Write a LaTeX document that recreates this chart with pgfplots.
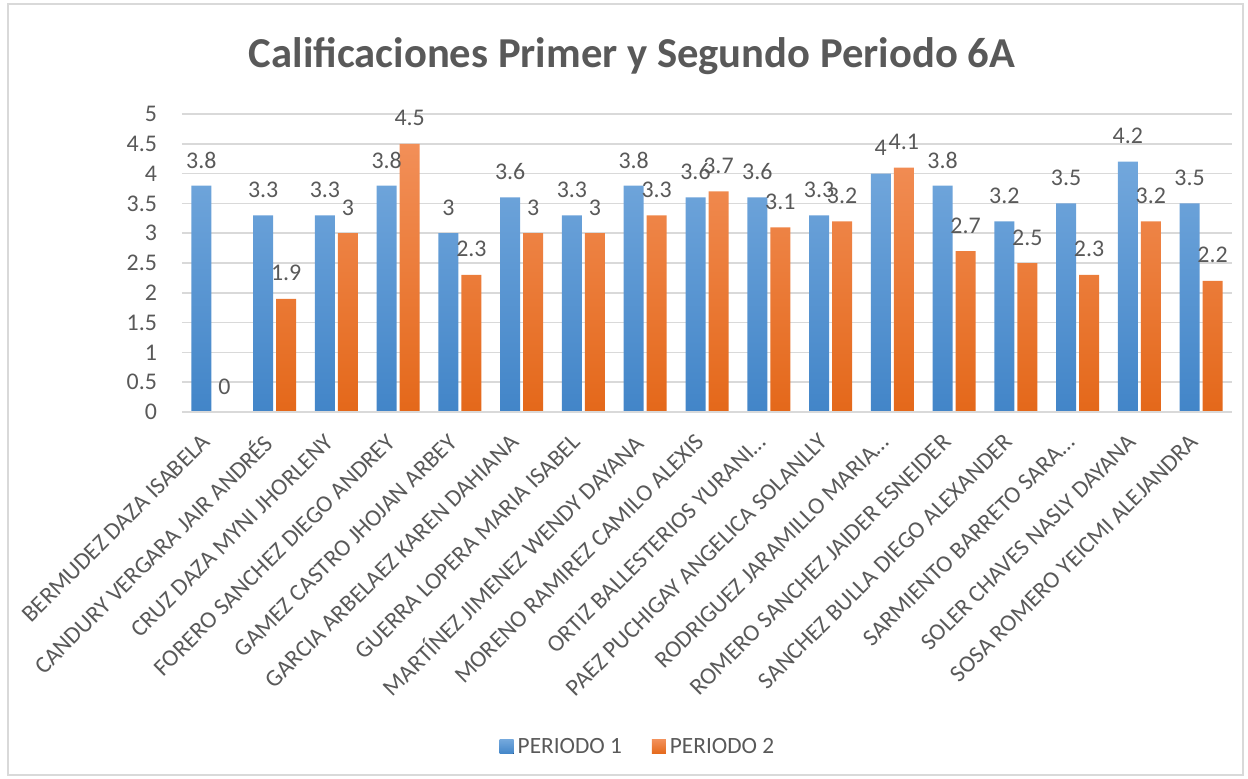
\documentclass[border=0pt]{standalone}
\usepackage{fontspec}
\setmainfont{Carlito}
\usepackage{pgfplots}
\pgfplotsset{compat=1.18}

\definecolor{txt}{HTML}{595959}
\definecolor{gridc}{HTML}{D9D9D9}
\definecolor{blueT}{HTML}{72A7DC}
\definecolor{blueB}{HTML}{4285C8}
\definecolor{orgT}{HTML}{F28F58}
\definecolor{orgB}{HTML}{E4681A}

\begin{document}
\begin{tikzpicture}
% picture size matches 1248x779 px at 0.5bp per px, plot area origin at (182,412) px
\useasboundingbox (-91bp,-183.5bp) rectangle (533bp,206bp);
\draw[gridc, line width=0.6bp] (-87bp,-181.5bp) rectangle (530.5bp,204bp);
\node[text=txt, font=\fontsize{21.4}{26}\selectfont\bfseries] at (225bp,178bp)
  {Calificaciones Primer y Segundo Periodo 6A};
\begin{axis}[
    at={(0,0)}, anchor=south west,
    scale only axis,
    width=525bp, height=149bp,
    ybar=1.5bp, bar width=10bp,
    xmin=-0.5, xmax=16.5,
    ymin=0, ymax=5,
    ytick={0,0.5,...,5},
    xtick=data,
    xticklabels={BERMUDEZ DAZA ISABELA, CANDURY VERGARA JAIR ANDRÉS,
      CRUZ DAZA MYNI JHORLENY, FORERO SANCHEZ DIEGO ANDREY,
      GAMEZ CASTRO JHOJAN ARBEY, GARCIA ARBELAEZ KAREN DAHIANA,
      GUERRA LOPERA MARIA ISABEL, MARTÍNEZ JIMENEZ WENDY DAYANA,
      MORENO RAMIREZ CAMILO ALEXIS, ORTIZ BALLESTERIOS YURANI…,
      PAEZ PUCHIGAY ANGELICA SOLANLLY, RODRIGUEZ JARAMILLO MARIA…,
      ROMERO SANCHEZ JAIDER ESNEIDER, SANCHEZ BULLA DIEGO ALEXANDER,
      SARMIENTO BARRETO SARA…, SOLER CHAVES NASLY DAYANA,
      SOSA ROMERO YEICMI ALEJANDRA},
    xticklabel style={rotate=45, anchor=east, font=\fontsize{12}{14}\selectfont, text=txt, xshift=-8.3bp, yshift=-6.8bp},
    yticklabel style={font=\fontsize{12}{14}\selectfont, text=txt, xshift=-9bp},
    /pgf/number format/assume math mode=true,
    major tick length=0pt,
    axis line style={draw=none},
    ymajorgrids, xmajorgrids=false, grid style={draw=gridc, line width=0.8bp},
    nodes near coords,
    nodes near coords style={font=\fontsize{12}{14}\selectfont, text=txt, anchor=center, yshift=12.8bp},
    legend style={at={(0.4352,-1.124)}, anchor=center, draw=none, fill=none,
      legend columns=2, font=\fontsize{11.7}{13}\selectfont, text=txt,
      /tikz/every even column/.append style={column sep=13bp}},
    legend image code/.code={\fill[#1] (0bp,-3.5bp) rectangle (7bp,3.5bp);},
]
\addplot[draw=none, top color=blueT, bottom color=blueB] coordinates {
  (0,3.8) (1,3.3) (2,3.3) (3,3.8) (4,3) (5,3.6) (6,3.3) (7,3.8) (8,3.6)
  (9,3.6) (10,3.3) (11,4) (12,3.8) (13,3.2) (14,3.5) (15,4.2) (16,3.5)};
\addlegendentry{PERIODO 1}
\addplot[draw=none, top color=orgT, bottom color=orgB] coordinates {
  (0,0) (1,1.9) (2,3) (3,4.5) (4,2.3) (5,3) (6,3) (7,3.3) (8,3.7)
  (9,3.1) (10,3.2) (11,4.1) (12,2.7) (13,2.5) (14,2.3) (15,3.2) (16,2.2)};
\addlegendentry{PERIODO 2}
\draw[gridc, line width=1bp] (rel axis cs:0,0) -- (rel axis cs:1,0);
\end{axis}
\end{tikzpicture}
\end{document}
